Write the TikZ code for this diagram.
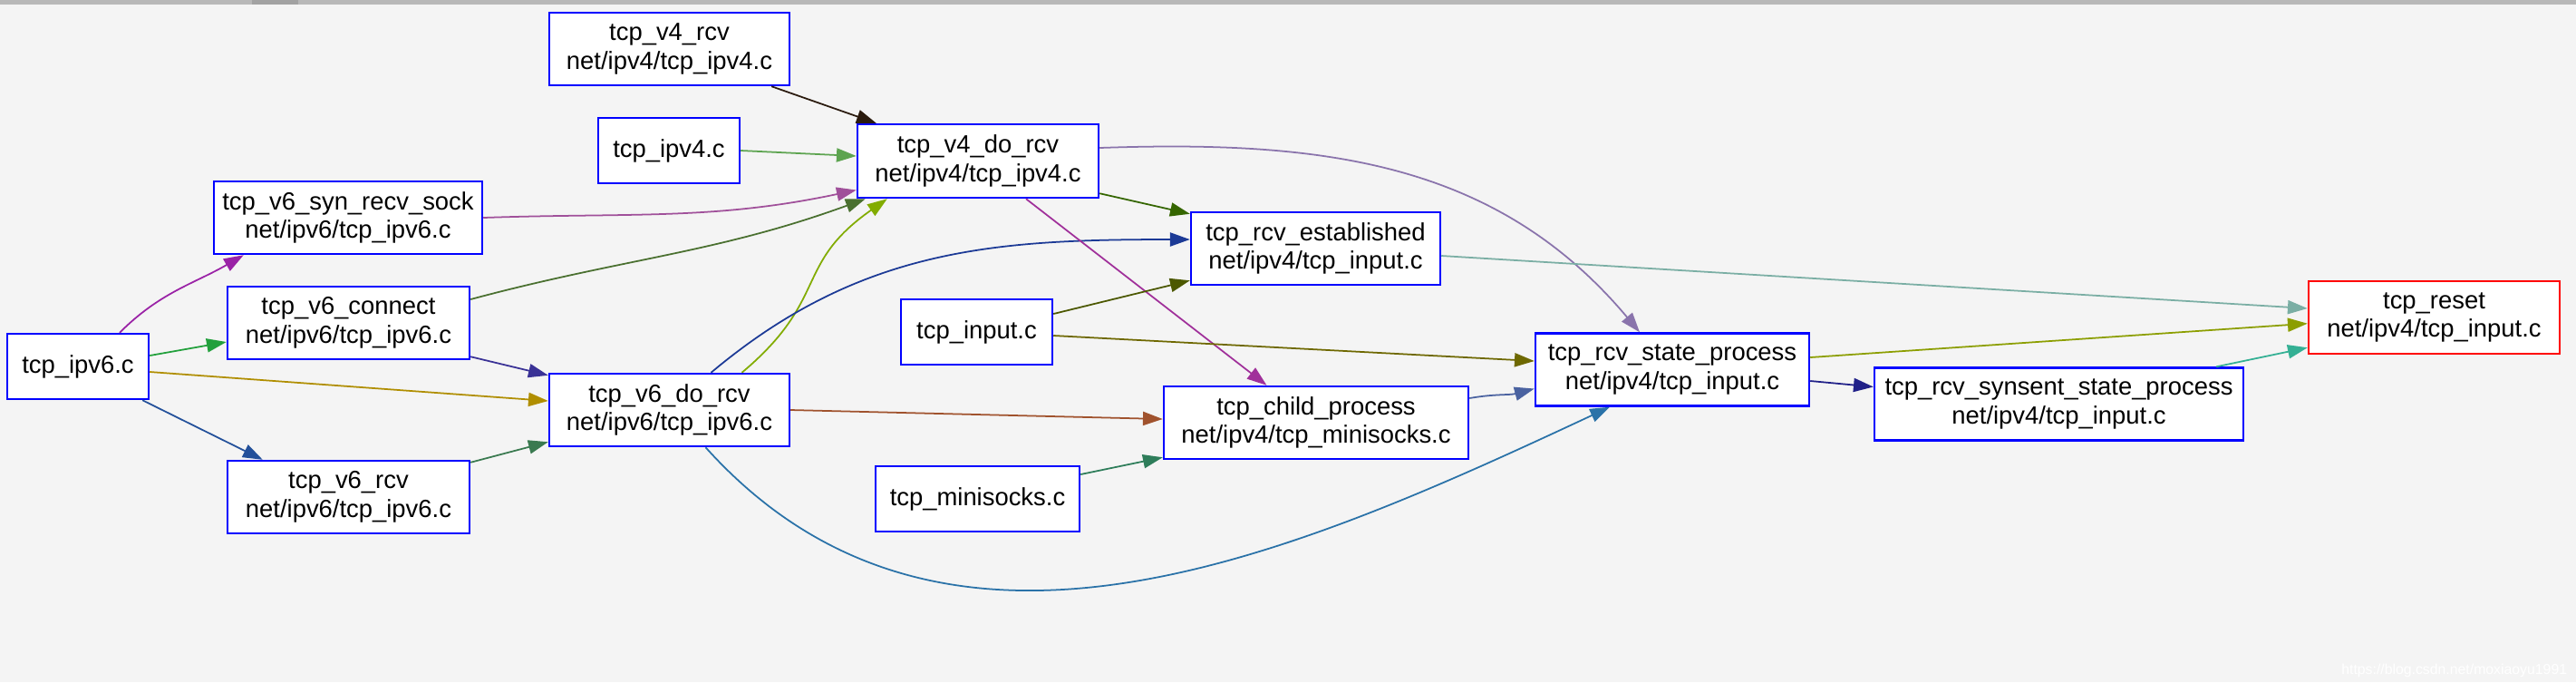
\documentclass[tikz,border=0pt]{standalone}
\usepackage{fontspec}
\setmainfont{Liberation Sans}
\usepackage{tikz}
\usetikzlibrary{arrows.meta, positioning}

\definecolor{bgcol}{HTML}{F4F4F4}
\definecolor{topbar}{HTML}{B8B8B8}
\definecolor{topbarDark}{HTML}{A2A2A2}
\definecolor{fnblue}{HTML}{0000FF}
\definecolor{darkbrown}{HTML}{2B1B0E}
\definecolor{leafgreen}{HTML}{5DA450}
\definecolor{orchid}{HTML}{A0509A}
\definecolor{mossgreen}{HTML}{4A7030}
\definecolor{limegreen}{HTML}{82AC00}
\definecolor{royalblue}{HTML}{1C3A96}
\definecolor{violet}{HTML}{9A22A6}
\definecolor{grassgreen}{HTML}{22A03C}
\definecolor{gold}{HTML}{B08E00}
\definecolor{steelblue}{HTML}{23509A}
\definecolor{indigo}{HTML}{3A3296}
\definecolor{pinegreen}{HTML}{3A7A50}
\definecolor{sienna}{HTML}{A0522D}
\definecolor{oceanblue}{HTML}{2A72A8}
\definecolor{darkgreen}{HTML}{356600}
\definecolor{plum}{HTML}{A0309A}
\definecolor{lavender}{HTML}{8A74AC}
\definecolor{darkolive}{HTML}{4C5800}
\definecolor{olive}{HTML}{6E6800}
\definecolor{seagreen}{HTML}{2E7D5A}
\definecolor{slateblue}{HTML}{4A62A0}
\definecolor{greyteal}{HTML}{7AAEA4}
\definecolor{yellowolive}{HTML}{8C9E00}
\definecolor{navy}{HTML}{202088}
\definecolor{jade}{HTML}{34B094}

\tikzset{
  fn/.style={draw=fnblue, fill=white, line width=0.7pt, align=center,
    inner sep=0pt, minimum height=0.80cm, font=\fontsize{7.8pt}{9pt}\selectfont},
  fnfile/.style={fn, minimum height=0.72cm},
  fnhot/.style={fn, draw=red},
  wmark/.style={text=white, font=\fontsize{4.5pt}{5pt}\selectfont, inner sep=0pt},
}

\begin{document}
\begin{tikzpicture}[->, >={Triangle[length=6.2pt,width=4.3pt]}, line width=0.5pt, node distance=3.5cm]
\useasboundingbox (0,0) rectangle (28.42,-7.52);
\fill[-, bgcol] (0,0) rectangle (28.42,-7.52);
\fill[-, topbar] (0,0) rectangle (28.42,-0.045);
\fill[-, topbarDark] (2.78,0) rectangle (3.29,-0.045);

\node[fnfile, minimum width=1.56cm] (ipv6c) at (0.86,-4.04) {tcp\_ipv6.c};
\node[fn, minimum width=2.67cm] (connect) [right of=ipv6c, xshift=-0.515cm, yshift=0.48cm] {tcp\_v6\_connect\\net/ipv6/tcp\_ipv6.c};
\node[fn, minimum width=2.96cm] (synrecv) [right of=ipv6c, xshift=-0.52cm, yshift=1.64cm] {tcp\_v6\_syn\_recv\_sock\\net/ipv6/tcp\_ipv6.c};
\node[fn, minimum width=2.67cm] (v6rcv) [right of=ipv6c, xshift=-0.515cm, yshift=-1.44cm] {tcp\_v6\_rcv\\net/ipv6/tcp\_ipv6.c};
\node[fn, minimum width=2.65cm] (v6dorcv) [right of=connect, xshift=0.04cm, yshift=-0.96cm] {tcp\_v6\_do\_rcv\\net/ipv6/tcp\_ipv6.c};
\node[fnfile, minimum width=1.56cm] (ipv4c) [right of=synrecv, xshift=0.04cm, yshift=0.74cm] {tcp\_ipv4.c};
\node[fn, minimum width=2.65cm] (v4rcv) [right of=synrecv, xshift=0.045cm, yshift=1.86cm] {tcp\_v4\_rcv\\net/ipv4/tcp\_ipv4.c};
\node[fn, minimum width=2.66cm, minimum height=0.81cm] (v4dorcv) [right of=ipv4c, xshift=-0.09cm, yshift=-0.115cm] {tcp\_v4\_do\_rcv\\net/ipv4/tcp\_ipv4.c};
\node[fnfile, minimum width=1.67cm] (inputc) [right of=v6dorcv, xshift=-0.11cm, yshift=0.86cm] {tcp\_input.c};
\node[fnfile, minimum width=2.25cm] (minisocks) [right of=v6dorcv, xshift=-0.10cm, yshift=-0.98cm] {tcp\_minisocks.c};
\node[fn, minimum width=2.75cm] (established) [right of=v4dorcv, xshift=0.225cm, yshift=-0.965cm] {tcp\_rcv\_established\\net/ipv4/tcp\_input.c};
\node[fn, minimum width=3.36cm] (child) [right of=inputc, xshift=0.245cm, yshift=-1.0cm] {tcp\_child\_process\\net/ipv4/tcp\_minisocks.c};
\node[fn, minimum width=3.02cm] (stateproc) [right of=child, xshift=0.43cm, yshift=0.585cm] {tcp\_rcv\_state\_process\\net/ipv4/tcp\_input.c};
\node[fn, minimum width=4.07cm] (synsent) [right of=stateproc, xshift=0.765cm, yshift=-0.38cm] {tcp\_rcv\_synsent\_state\_process\\net/ipv4/tcp\_input.c};
\node[fnhot, minimum width=2.77cm] (reset) [right of=synsent, xshift=0.64cm, yshift=0.955cm] {tcp\_reset\\net/ipv4/tcp\_input.c};
\node[wmark, anchor=base east] (wm) at (28.33,-7.43) {https://blog.csdn.net/moxiaoyu1991};

\path ([xshift=0.46cm]ipv6c.north) edge [violet, out=45, in=210] ([xshift=0.34cm]synrecv.south west);
\path ([yshift=0.12cm]ipv6c.east) edge [grassgreen] ([yshift=-0.21cm]connect.west);
\path ([yshift=-0.06cm]ipv6c.east) edge [gold] ([yshift=0.1cm]v6dorcv.west);
\path ([xshift=-0.08cm]ipv6c.south east) edge [steelblue] ([xshift=0.4cm]v6rcv.north west);
\path (synrecv.east) edge [orchid, out=2, in=192] ([yshift=-0.32cm]v4dorcv.west);
\path ([yshift=0.26cm]connect.east) edge [mossgreen, out=15, in=200] ([xshift=0.1cm]v4dorcv.south west);
\path ([yshift=0.04cm]connect.south east) edge [indigo] ([yshift=-0.03cm]v6dorcv.north west);
\path ([yshift=-0.03cm]v6rcv.north east) edge [pinegreen] ([yshift=0.06cm]v6dorcv.south west);
\path ([xshift=-0.21cm]v4rcv.south east) edge [darkbrown] ([xshift=0.22cm]v4dorcv.north west);
\path (ipv4c.east) edge [leafgreen] ([yshift=0.055cm]v4dorcv.west);
\path ([xshift=0.8cm]v6dorcv.north) edge [limegreen, out=40, in=215, looseness=1.3] ([xshift=0.34cm]v4dorcv.south west);
\path ([xshift=0.46cm]v6dorcv.north) edge [royalblue, out=40, in=180] ([yshift=0.1cm]established.west);
\path (v6dorcv.east) edge [sienna] ([yshift=0.04cm]child.west);
\path ([xshift=0.4cm]v6dorcv.south) edge [oceanblue, out=-48, in=205] ([xshift=-0.69cm]stateproc.south);
\path ([yshift=0.06cm]v4dorcv.south east) edge [darkgreen] ([yshift=-0.03cm]established.north west);
\path ([xshift=0.53cm]v4dorcv.south) edge [plum] ([xshift=-0.545cm]child.north);
\path ([yshift=0.145cm]v4dorcv.east) edge [lavender, out=2, in=130] ([xshift=-0.36cm]stateproc.north);
\path ([yshift=0.2cm]inputc.east) edge [darkolive] ([yshift=0.06cm]established.south west);
\path ([yshift=-0.04cm]inputc.east) edge [olive] ([yshift=0.095cm]stateproc.west);
\path ([yshift=0.27cm]minisocks.east) edge [seagreen] ([yshift=0.03cm]child.south west);
\path ([yshift=0.27cm]child.east) edge [slateblue, out=10, in=195] ([yshift=-0.21cm]stateproc.west);
\path ([yshift=-0.08cm]established.east) edge [greyteal] ([yshift=0.1cm]reset.west);
\path ([yshift=0.135cm]stateproc.east) edge [yellowolive] ([yshift=-0.067cm]reset.west);
\path ([yshift=-0.125cm]stateproc.east) edge [navy] ([yshift=0.19cm]synsent.west);
\path ([xshift=-0.31cm]synsent.north east) edge [jade] ([yshift=0.08cm]reset.south west);
\end{tikzpicture}
\end{document}
